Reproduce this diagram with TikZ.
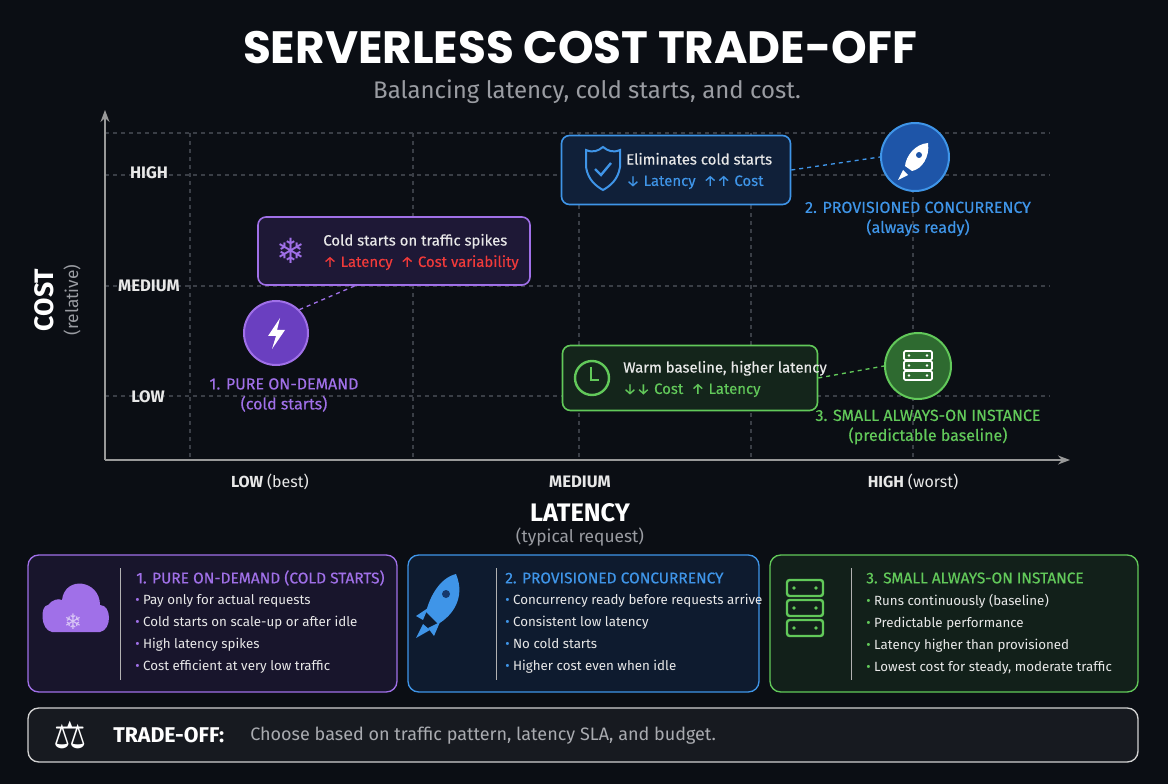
\documentclass[tikz,border=0pt]{standalone}
\usepackage{fontspec}
\setmainfont{Fira Sans}
\newfontfamily\titlef{Poppins}
\newfontfamily\symf{DejaVu Sans}
\usetikzlibrary{arrows.meta}
\definecolor{bg}{HTML}{0B0E14}
\definecolor{pur}{HTML}{A070E8}
\definecolor{purd}{HTML}{6A3FC0}
\definecolor{blu}{HTML}{3F95E8}
\definecolor{blud}{HTML}{1E55A8}
\definecolor{grn}{HTML}{62C95A}
\definecolor{grnd}{HTML}{2E6A30}
\definecolor{redc}{HTML}{F03A3A}
\definecolor{gridc}{HTML}{3A3E46}
\definecolor{txt}{HTML}{E8E8E8}
\definecolor{mut}{HTML}{9A9CA2}
\tikzset{
 every node/.style={inner sep=0pt},
 grid/.style={gridc,dashed,line width=0.8pt},
 callout/.style={rounded corners=6pt,line width=1.2pt},
 card/.style={rounded corners=8pt,line width=1pt},
 lead/.style={dashed,line width=1pt},
 lbl/.style={font=\fontsize{12}{14}\selectfont,text=txt},
 cl/.style={font=\fontsize{11.2}{16}\selectfont\addfontfeature{FakeBold=0.3},text=txt},
 ax/.style={font=\fontsize{12.5}{14}\selectfont\bfseries,text=txt},
 bl/.style={font=\fontsize{10}{16.5}\selectfont,text=txt,align=left,anchor=north west},
 kh/.style={font=\fontsize{11.6}{14}\selectfont\addfontfeature{FakeBold=0.5},anchor=west},
}
\begin{document}
\begin{tikzpicture}[x=0.75pt,y=-0.75pt]
\fill[bg] (0,0) rectangle (1168,784);
\useasboundingbox (0,0) rectangle (1168,784);
% title
\node[font=\titlef\bfseries\fontsize{34}{38}\selectfont,text=white] (title) at (580,48) {SERVERLESS COST TRADE-OFF};
\node[font=\fontsize{18}{20}\selectfont,text=mut] (sub) at (587,92) {Balancing latency, cold starts, and cost.};
% grid
\foreach \yy in {133,175,286,396} \draw[grid] (105,\yy) -- (1050,\yy);
\foreach \xx in {190,413,579,751,913} \draw[grid] (\xx,133) -- (\xx,460);
% axes
\coordinate (o) at (105,460); \coordinate (ytop) at (105,110); \coordinate (xend) at (1070,460);
\draw[gray!80,line width=1.2pt,-{Stealth[length=9pt]}] (o) -- (ytop);
\draw[gray!80,line width=1.2pt,-{Stealth[length=9pt]}] (o) -- (xend);
\node[ax] (yh) at (149,173) {HIGH};
\node[ax] (ym) at (149,286) {MEDIUM};
\node[ax] (yl) at (148,397) {LOW};
\node[font=\fontsize{20}{22}\selectfont\bfseries,text=white,rotate=90] (cost) at (44,300) {COST};
\node[font=\fontsize{13}{14}\selectfont,text=mut,rotate=90] (rel) at (72,300) {(relative)};
\node[lbl] (xl) at (270,482) {\bfseries LOW \mdseries(best)};
\node[ax] (xm) at (580,482) {MEDIUM};
\node[lbl] (xh) at (913,482) {\bfseries HIGH \mdseries(worst)};
\node[font=\fontsize{19}{22}\selectfont\bfseries,text=white] (lat) at (580,513) {LATENCY};
\node[font=\fontsize{13}{14}\selectfont,text=mut] (typ) at (580,537) {(typical request)};
% markers
\node[circle,minimum size=64pt*0.75,fill=purd,draw=pur,line width=1.5pt] (m1) at (276,333) {};
\fill[white] (280,318) -- (268,336) -- (276,336) -- (272,349) -- (285,330) -- (277,330) -- cycle;
\node[font=\fontsize{12}{15}\selectfont\addfontfeature{FakeBold=0.4},text=pur,align=center] (m1l) at (284,395) {1. PURE ON-DEMAND\\(cold starts)};
\node[circle,minimum size=68pt*0.75,fill=blud,draw=blu,line width=1.5pt] (m2) at (915,157) {};
\fill[white] (928,143) .. controls (915,144) and (906,156) .. (905,166) -- (912,171) .. controls (922,169) and (930,157) .. (928,143) -- cycle;
\fill[blud] (919,155) circle (3);
\fill[white] (903,170) -- (898,180) -- (908,175) -- cycle;
\node[font=\fontsize{12}{15}\selectfont\addfontfeature{FakeBold=0.4},text=blu,align=center] (m2l) at (918,219) {2. PROVISIONED CONCURRENCY\\(always ready)};
\node[circle,minimum size=66pt*0.75,fill=grnd,draw=grn,line width=1.5pt] (m3) at (918,366) {};
\foreach \r in {0,1,2} {\draw[white,line width=1.3pt,rounded corners=1pt] (904,{351+\r*10}) rectangle (932,{360+\r*10});
 \fill[white] (909,{355.5+\r*10}) circle (1.3); \fill[white] (927,{355.5+\r*10}) circle (1.3);}
\node[font=\fontsize{12}{15}\selectfont\addfontfeature{FakeBold=0.4},text=grn,align=center] (m3l) at (928,427) {3. SMALL ALWAYS-ON INSTANCE\\(predictable baseline)};
% callouts
\node[callout,draw=pur,fill=purd!20!bg,minimum width=272pt*0.75,minimum height=68pt*0.75] (c1) at (394,251) {};
\node[text=pur,font=\symf\fontsize{26}{26}\selectfont] (c1i) at (291,251) {❄};
\node[cl,anchor=west,align=left] (c1t) at (323,252) {Cold starts on traffic spikes\\\textcolor{redc}{↑ Latency\ \ ↑ Cost variability}};
\node[callout,draw=blu,fill=blud!25!bg,minimum width=229pt*0.75,minimum height=69pt*0.75] (c2) at (676,170) {};
\draw[blu,line width=1.5pt] (586,150) .. controls (593,153) and (598,151) .. (603,147) .. controls (608,151) and (613,153) .. (620,150) -- (620,167) .. controls (618,180) and (610,186) .. (603,190) .. controls (596,186) and (588,180) .. (586,167) -- cycle;
\draw[blu,line width=1.8pt] (595,169) -- (601,175) -- (611,163);
\node[cl,anchor=west,align=left] (c2t) at (626,171) {Eliminates cold starts\\\textcolor{blu}{↓ Latency\ \ ↑↑ Cost}};
\node[callout,draw=grn,fill=grnd!25!bg,minimum width=255pt*0.75,minimum height=65pt*0.75] (c3) at (690,378) {};
\draw[grn,line width=1.8pt] (592,378) circle (17);
\draw[grn,line width=1.8pt] (591,367) -- (591,380) -- (599,380);
\node[cl,anchor=west,align=left] (c3t) at (623,379) {Warm baseline, higher latency\\\textcolor{grn}{↓↓ Cost\ \ ↑ Latency}};
% leaders
\draw[lead,pur] (m1.north east) -- (c1.south -| 355,0) ;
\draw[lead,blu] (c2.east) -- (m2.west);
\draw[lead,grn] (c3.east) -- (m3.west);
% cards
\node[card,draw=pur,fill=purd!14!bg,minimum width=369pt*0.75,minimum height=137pt*0.75] (k1) at (212.5,623.5) {};
\node[card,draw=blu,fill=blud!18!bg,minimum width=351pt*0.75,minimum height=137pt*0.75] (k2) at (583.5,623.5) {};
\node[card,draw=grn,fill=grnd!20!bg,minimum width=368pt*0.75,minimum height=137pt*0.75] (k3) at (954,623.5) {};
\draw[gray!60] (120,568) -- (120,680); \draw[gray!60] (496,568) -- (496,680); \draw[gray!60] (851,568) -- (851,680);
% card icons
\fill[pur] (48,605) .. controls (40,605) and (40,630) .. (52,632) -- (100,632) .. controls (112,630) and (112,605) .. (100,605) .. controls (100,580) and (65,575) .. (62,600) .. controls (58,598) and (52,600) .. (48,605) -- cycle;
\node[text=pur!40,font=\symf\fontsize{16}{16}\selectfont] (k1i) at (73,622) {❄};
\fill[blu] (456,574) .. controls (440,578) and (430,596) .. (426,612) -- (438,624) .. controls (452,616) and (466,598) .. (456,574) -- cycle;
\fill[blud!60!bg] (446,594) circle (4);
\fill[blu] (428,608) -- (416,616) -- (423,620) -- cycle;
\fill[blu] (440,622) -- (434,636) -- (428,628) -- cycle;
\fill[blu] (423,624) -- (416,638) -- (430,630) -- cycle;
\foreach \r in {0,1,2} {\draw[grn,line width=1.8pt,rounded corners=2pt] (787,{580+\r*20}) rectangle (823,{596+\r*20});
 \fill[grn] (794,{588+\r*20}) circle (1.8); \fill[grn] (816,{588+\r*20}) circle (1.8);}
% card text
\node[kh,text=pur] (k1h) at (136,578) {1. PURE ON-DEMAND (COLD STARTS)};
\node[bl] (k1b) at (135,594) {\textcolor{pur}{•}\ Pay only for actual requests\\\textcolor{pur}{•}\ Cold starts on scale-up or after idle\\\textcolor{pur}{•}\ High latency spikes\\\textcolor{pur}{•}\ Cost efficient at very low traffic};
\node[kh,text=blu] (k2h) at (505,578) {2. PROVISIONED CONCURRENCY};
\node[bl] (k2b) at (505,594) {\textcolor{blu}{•}\ Concurrency ready before requests arrive\\\textcolor{blu}{•}\ Consistent low latency\\\textcolor{blu}{•}\ No cold starts\\\textcolor{blu}{•}\ Higher cost even when idle};
\node[kh,text=grn] (k3h) at (866,578) {3. SMALL ALWAYS-ON INSTANCE};
\node[bl] (k3b) at (866,594) {\textcolor{grn}{•}\ Runs continuously (baseline)\\\textcolor{grn}{•}\ Predictable performance\\\textcolor{grn}{•}\ Latency higher than provisioned\\\textcolor{grn}{•}\ Lowest cost for steady, moderate traffic};
% trade-off bar
\node[card,draw=gray!35,fill=white!5!bg,minimum width=1110pt*0.75,minimum height=54pt*0.75] (bar) at (583,735) {};
\node[text=white,font=\symf\fontsize{28}{28}\selectfont] (scale) at (70,735) {⚖};
\node[anchor=west,font=\fontsize{16}{18}\selectfont\bfseries,text=white] (tl) at (113,735) {TRADE-OFF:};
\node[anchor=west,font=\fontsize{13.5}{16}\selectfont,text=mut!85] (tt) at (250,736) {Choose based on traffic pattern, latency SLA, and budget.};
\end{tikzpicture}
\end{document}
